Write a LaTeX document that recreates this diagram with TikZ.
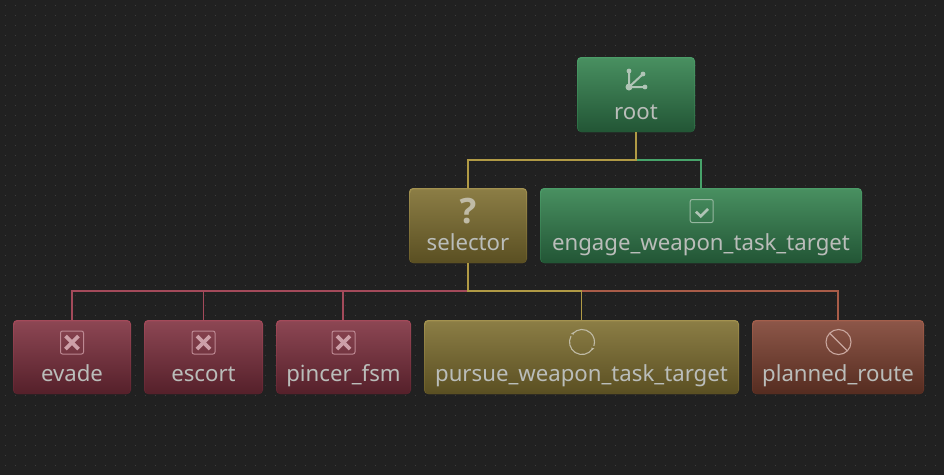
\documentclass[tikz,border=0pt]{standalone}
\usepackage{fontspec}
\setmainfont{Noto Sans}
\newfontfamily\qfont{Open Sans}
\usetikzlibrary{calc}
\definecolor{bgc}{HTML}{212121}
\definecolor{dotc}{HTML}{3C3C3C}
\definecolor{txtc}{HTML}{BABDBA}
\definecolor{grnT}{HTML}{488F60}\definecolor{grnB}{HTML}{225535}\definecolor{grnE}{HTML}{4B9C68}\definecolor{grnF}{HTML}{2A6A42}\definecolor{grnL}{HTML}{47A36A}\definecolor{grnI}{HTML}{B0C4B6}
\definecolor{golT}{HTML}{8B7D45}\definecolor{golB}{HTML}{5A4F22}\definecolor{golE}{HTML}{A39250}\definecolor{golF}{HTML}{6A5C28}\definecolor{golL}{HTML}{B09A45}\definecolor{golI}{HTML}{C0BBA6}
\definecolor{redT}{HTML}{8C4653}\definecolor{redB}{HTML}{55202A}\definecolor{redE}{HTML}{A34A5A}\definecolor{redF}{HTML}{5F2430}\definecolor{redL}{HTML}{A34A5A}\definecolor{redI}{HTML}{CDA0A8}
\definecolor{broT}{HTML}{8C5648}\definecolor{broB}{HTML}{552C20}\definecolor{broE}{HTML}{A35F4C}\definecolor{broF}{HTML}{5F3024}\definecolor{broL}{HTML}{A85C48}\definecolor{broI}{HTML}{C9A79F}
\tikzset{
  x=1pt,y=-1pt,
  btbox/.style={rectangle,rounded corners=4pt,inner sep=0pt,text width=0pt},
  grnbox/.style={btbox,top color=grnE,bottom color=grnF},
  golbox/.style={btbox,top color=golE,bottom color=golF},
  redbox/.style={btbox,top color=redE,bottom color=redF},
  brobox/.style={btbox,top color=broE,bottom color=broF},
  lab/.style={text=txtc,font=\fontsize{22.2}{26}\selectfont,inner sep=0pt,anchor=base},
  wire/.style={line width=2pt,line join=miter},
  thinwire/.style={line width=1pt},
}
\newcommand{\facefill}[2]{%
  \shade[top color=#2T,bottom color=#2B,rounded corners=3.5pt] ($(#1.north west)+(1.5,1.5)$) rectangle ($(#1.south east)+(-1,0)$);
}
\newcommand{\crossicon}[1]{%
  \draw[redI!75!redT,line width=1pt,rounded corners=2pt] ($(#1.center)+(-11.5,-26)$) rectangle ($(#1.center)+(11.5,-3)$);
  \draw[redI,line width=3.6pt] ($(#1.center)+(-6.5,-21)$) -- ($(#1.center)+(6.5,-8)$);
  \draw[redI,line width=3.6pt] ($(#1.center)+(6.5,-21)$) -- ($(#1.center)+(-6.5,-8)$);
}
\begin{document}
\begin{tikzpicture}
\useasboundingbox (0,0) rectangle (944,475);
\fill[bgc] (0,0) rectangle (944,475);
\foreach \i in {0,...,93}{\foreach \j in {0,...,46}{
  \fill[dotc] ({\i*10+4.5},{\j*10+4.5}) rectangle +(1,1);
}}
% boxes
\node[grnbox,minimum width=118pt,minimum height=75pt] (root) at (636,94.5) {};
\node[golbox,minimum width=118pt,minimum height=75pt] (selector) at (468,225.5) {};
\node[grnbox,minimum width=322pt,minimum height=75pt] (engage) at (701,225.5) {};
\node[redbox,minimum width=118pt,minimum height=74pt] (evade) at (72,357) {};
\node[redbox,minimum width=119pt,minimum height=74pt] (escort) at (203.5,357) {};
\node[redbox,minimum width=135pt,minimum height=74pt] (pincer) at (343.5,357) {};
\node[golbox,minimum width=315pt,minimum height=74pt] (pursue) at (581.5,357) {};
\node[brobox,minimum width=172pt,minimum height=74pt] (planned) at (838,357) {};
\facefill{root}{grn}
\facefill{selector}{gol}
\facefill{engage}{grn}
\facefill{evade}{red}
\facefill{escort}{red}
\facefill{pincer}{red}
\facefill{pursue}{gol}
\facefill{planned}{bro}
% junctions
\coordinate (j1) at (636,160);
\coordinate (j2) at (468,291);
\coordinate (pinc) at (343,291);
% connectors
\draw[wire,grnL] (j1) -| (engage.north);
\draw[wire,redL] (j2) -| (evade.north);
\draw[thinwire,redL] (escort.north) -- (escort.north |- j2);
\draw[wire,redL] (pinc) -- (pinc |- pincer.north);
\draw[wire,broL] (pursue.north |- j2) -| (planned.north);
\draw[wire,golL] (root.south) -- (j1) -| (selector.north);
\draw[wire,golL] (selector.south) -- (j2) -- (pursue.north |- j2);
\draw[thinwire,golL] (pursue.north |- j2) -- (pursue.north);
% labels
\node[lab] (troot) at ($(root.center)+(0,25)$) {root};
\node[lab] (tselector) at ($(selector.center)+(0,25)$) {selector};
\node[lab] (tengage) at ($(engage.center)+(0,25)$) {engage\_weapon\_task\_target};
\node[lab] (tevade) at ($(evade.center)+(0,24.5)$) {evade};
\node[lab] (tescort) at ($(escort.center)+(0,24.5)$) {escort};
\node[lab] (tpincer) at ($(pincer.center)+(0,24.5)$) {pincer\_fsm};
\node[lab] (tpursue) at ($(pursue.center)+(0,24.5)$) {pursue\_weapon\_task\_target};
\node[lab] (tplanned) at ($(planned.center)+(0,24.5)$) {planned\_route};
% root icon
\begin{scope}[shift={(629,87)}]
  \draw[grnI,line width=2pt] (0,0) -- (0,-16) (0,0) -- (14,-13) (0,0) -- (16,0);
  \fill[grnI] (0,0) circle (3.5) (0,-16) circle (2.4) (14,-13) circle (2.4) (16,0) circle (2.4);
\end{scope}
% question
\node[text=golI,font=\qfont\fontsize{35}{37}\bfseries\selectfont,inner sep=0pt,anchor=base] (qmark) at (468,223) {?};
% check
\begin{scope}[shift={(701.7,211)}]
  \draw[grnI!75!grnT,line width=1pt,rounded corners=2pt] (-11.5,-11.5) rectangle (11.5,11.5);
  \draw[grnI,line width=2.6pt] (-5.7,0.7) -- (-1,5.3) -- (6.3,-2);
\end{scope}
% crosses
\crossicon{evade}
\crossicon{escort}
\crossicon{pincer}
% loop
\begin{scope}[shift={(582,342)}]
  \draw[golI,line width=1.1pt] (32:12.5) arc (32:208:12.5);
  \draw[golI,line width=1.1pt] (222:12.5) arc (222:378:12.5);
  \fill[golI] (222:12.5) ++(-1.8,0.2) -- ++(2.6,-1.8) -- ++(0.4,2.6) -- cycle;
  \fill[golI] (32:12.5) ++(1.8,-0.2) -- ++(-2.6,1.8) -- ++(-0.4,-2.6) -- cycle;
\end{scope}
% forbid
\begin{scope}[shift={(838.5,342)}]
  \draw[broI,line width=1.1pt] (0,0) circle (12.5);
  \draw[broI,line width=1.3pt] (-8.8,-8.8) -- (8.8,8.8);
\end{scope}
\end{tikzpicture}
\end{document}
